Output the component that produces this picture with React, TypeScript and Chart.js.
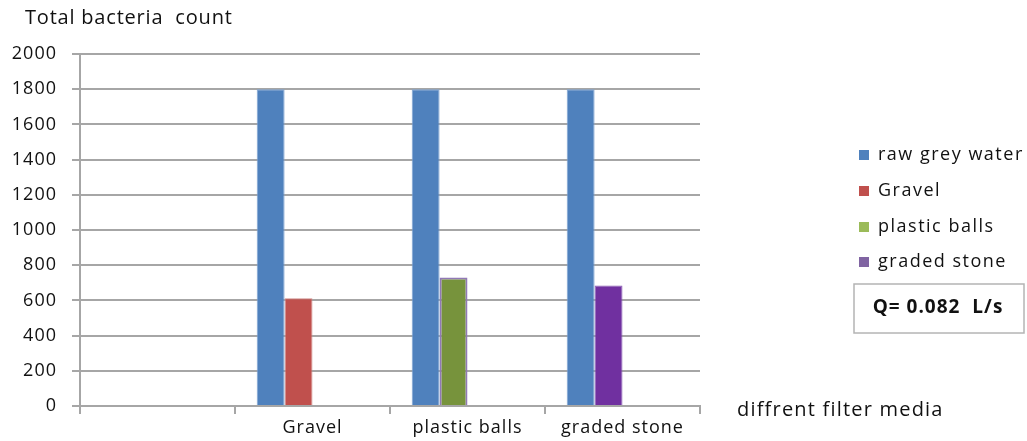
import React, { useEffect, useRef } from "react";
import { Chart, registerables } from "chart.js";

Chart.register(...registerables);

const categories = ["", "Gravel", "plastic balls", "graded stone"];
const rawGreyWater = [null, 1800, 1800, 1800];
const gravel = [null, 612, null, null];
const plasticBalls = [null, null, 730, null];
const gradedStone = [null, null, null, 685];
const emptySlot = [null, null, null, null];

const seriesNames = ["raw grey water", "Gravel", "plastic balls", "graded stone"];
const barColors = ["#4F81BD", "#C0504D", "#77933C", "#7030A0"];
const legendColors = ["#4F81BD", "#C0504D", "#9BBB59", "#8064A2"];
const yTicks = [0, 200, 400, 600, 800, 1000, 1200, 1400, 1600, 1800, 2000];

const FONT = "'Open Sans', sans-serif";
const TEXT = "#111111";
const GRID = "#a6a6a6";

const spacingPlugin = {
  id: "spacing",
  beforeDraw(chart: any) {
    chart.ctx.letterSpacing = "1px";
  },
};

const overlayPlugin = {
  id: "overlay",
  afterDraw(chart: any) {
    const ctx = chart.ctx;
    ctx.save();
    ctx.fillStyle = TEXT;
    ctx.textBaseline = "middle";
    ctx.textAlign = "left";
    ctx.letterSpacing = "0.8px";
    ctx.font = `20px ${FONT}`;
    ctx.fillText("Total bacteria  count", 25, 18);
    ctx.letterSpacing = "1.2px";
    ctx.fillText("diffrent filter media", 737, 410);

    // legend
    ctx.font = `18px ${FONT}`;
    ctx.letterSpacing = "1.5px";
    const ys = [155, 191, 227, 262];
    seriesNames.forEach((name, i) => {
      ctx.fillStyle = legendColors[i];
      ctx.fillRect(859, ys[i] - 5, 10, 10);
      ctx.fillStyle = TEXT;
      ctx.fillText(name, 878, ys[i]);
    });

    // Q box
    ctx.strokeStyle = "#b4b4b4";
    ctx.lineWidth = 1.5;
    ctx.strokeRect(854, 284, 170, 49);
    ctx.font = `bold 19px ${FONT}`;
    ctx.letterSpacing = "1px";
    ctx.textAlign = "center";
    ctx.fillStyle = TEXT;
    ctx.fillText("Q= 0.082  L/s", 938, 308);
    ctx.restore();
  },
};

export default function App() {
  const ref = useRef<HTMLCanvasElement>(null);
  useEffect(() => {
    if (!ref.current) return;
    const chart = new Chart(ref.current, {
      type: "bar",
      data: {
        labels: categories,
        datasets: [
          { label: seriesNames[0], data: rawGreyWater, backgroundColor: barColors[0], borderColor: "#7fa3d1", borderWidth: 1, stack: "a" },
          { label: seriesNames[1], data: gravel, backgroundColor: barColors[1], borderColor: "#d08a88", borderWidth: 1, stack: "b" },
          { label: seriesNames[2], data: plasticBalls, backgroundColor: barColors[2], borderColor: "#9179b5", borderWidth: 2, stack: "b" },
          { label: seriesNames[3], data: gradedStone, backgroundColor: barColors[3], borderColor: "#8a5cb5", borderWidth: 1, stack: "b" },
          { label: "_slot3", data: emptySlot, stack: "c" },
          { label: "_slot4", data: emptySlot, stack: "d" },
        ] as any,
      },
      options: {
        animation: false,
        responsive: false,
        layout: { padding: { left: 0, top: 54, right: 327, bottom: 0 } },
        datasets: { bar: { categoryPercentage: 0.72, barPercentage: 1 } },
        plugins: { legend: { display: false }, title: { display: false }, tooltip: { enabled: false } },
        scales: {
          x: {
            type: "category",
            offset: true,
            grid: { offset: true, drawOnChartArea: false, drawTicks: true, tickLength: 8, color: GRID, lineWidth: 2 },
            border: { display: true, color: GRID, width: 2 },
            ticks: { color: TEXT, font: { family: FONT, size: 18 }, padding: 3, maxRotation: 0 },
            afterFit: (s: any) => { s.height = 35; },
          },
          y: {
            min: 0,
            max: 2000,
            afterBuildTicks: (s: any) => { s.ticks = yTicks.map((v) => ({ value: v })); },
            grid: { color: GRID, lineWidth: 2, tickLength: 8 },
            border: { display: true, color: GRID, width: 2 },
            ticks: { color: TEXT, font: { family: FONT, size: 18 }, padding: 15, callback: (v: any) => String(v) },
            afterFit: (s: any) => { s.width = 80; },
          },
        },
      },
      plugins: [spacingPlugin, overlayPlugin],
    });
    return () => chart.destroy();
  }, []);
  return (
    <div style={{ position: "absolute", left: 0, top: 0, width: 1027, height: 441, background: "#fff" }}>
      <canvas ref={ref} width={1027} height={441} />
    </div>
  );
}
